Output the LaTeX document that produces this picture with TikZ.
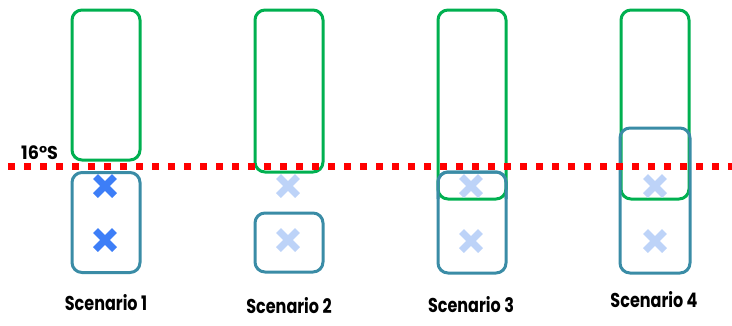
\documentclass[tikz,border=0pt]{standalone}
\usepackage{fontspec}
\setmainfont{Poppins}
\definecolor{gbox}{HTML}{00B050}
\definecolor{bbox}{HTML}{3A8CA6}
\definecolor{xdark}{HTML}{3D7EF7}
\definecolor{xlight}{HTML}{BDD3F8}
\newcommand{\condtxt}[3]{\scalebox{#3}[1]{\bfseries\fontsize{#1}{#1}\selectfont #2}}
\begin{document}
\begin{tikzpicture}[x=1pt,y=-1pt,
  gframe/.style={draw=gbox,line width=3pt,rounded corners=10pt},
  bframe/.style={draw=bbox,line width=3pt,rounded corners=10pt},
  lab/.style={inner sep=0pt},
  xmark/.style={line width=7pt}]
\useasboundingbox (0,0) rectangle (732,325);
% Scenario 1
\node[gframe,minimum width=68pt,minimum height=150pt,inner sep=0pt] (g1) at (106,85) {};
\node[bframe,minimum width=68pt,minimum height=100pt,inner sep=0pt] (b1) at (106,222.5) {};
% Scenario 2
\node[gframe,minimum width=68pt,minimum height=162pt,inner sep=0pt] (g2) at (289,91) {};
\node[bframe,minimum width=68pt,minimum height=59pt,inner sep=0pt] (b2) at (289,242.5) {};
% Scenario 3
\node[bframe,minimum width=68pt,minimum height=101pt,inner sep=0pt] (b3) at (472,222.5) {};
\node[gframe,minimum width=68pt,minimum height=189pt,inner sep=0pt] (g3) at (472,104.5) {};
\draw[bframe] (438,199) -- (438,172) -- (506,172) -- (506,199);
% Scenario 4
\node[gframe,minimum width=68pt,minimum height=189pt,inner sep=0pt] (g4) at (655,104.5) {};
\node[bframe,minimum width=70pt,minimum height=145pt,inner sep=0pt] (b4) at (655,200.5) {};
% line
\coordinate (l0) at (8,166);
\coordinate (l1) at (732,166);
\draw[red,line width=7pt,dash pattern=on 7pt off 9pt] (l0) -- (l1);
\node[lab,anchor=base west] (t16) at (21,159) {\condtxt{18.5}{16°S}{0.95}};
% crosses
\foreach \n/\x/\y/\c in {c1/105/186/xdark,c2/105/240/xdark,c3/288/186/xlight,c4/288/240/xlight,c5/471/186/xlight,c6/471/241/xlight,c7/655/186/xlight,c8/655/241/xlight}{
  \coordinate (\n) at (\x,\y);
  \draw[xmark,\c] ([shift={(-9.5,-9.5)}]\n) -- ([shift={(9.5,9.5)}]\n);
  \draw[xmark,\c] ([shift={(-9.5,9.5)}]\n) -- ([shift={(9.5,-9.5)}]\n);
}
% labels
\node[lab] (s1) at (106,303) {\condtxt{20}{Scenario 1}{0.8}};
\node[lab] (s2) at (289,306) {\condtxt{20}{Scenario 2}{0.8}};
\node[lab] (s3) at (471,305) {\condtxt{20}{Scenario 3}{0.8}};
\node[lab] (s4) at (654,300) {\condtxt{20}{Scenario 4}{0.8}};
\end{tikzpicture}
\end{document}
